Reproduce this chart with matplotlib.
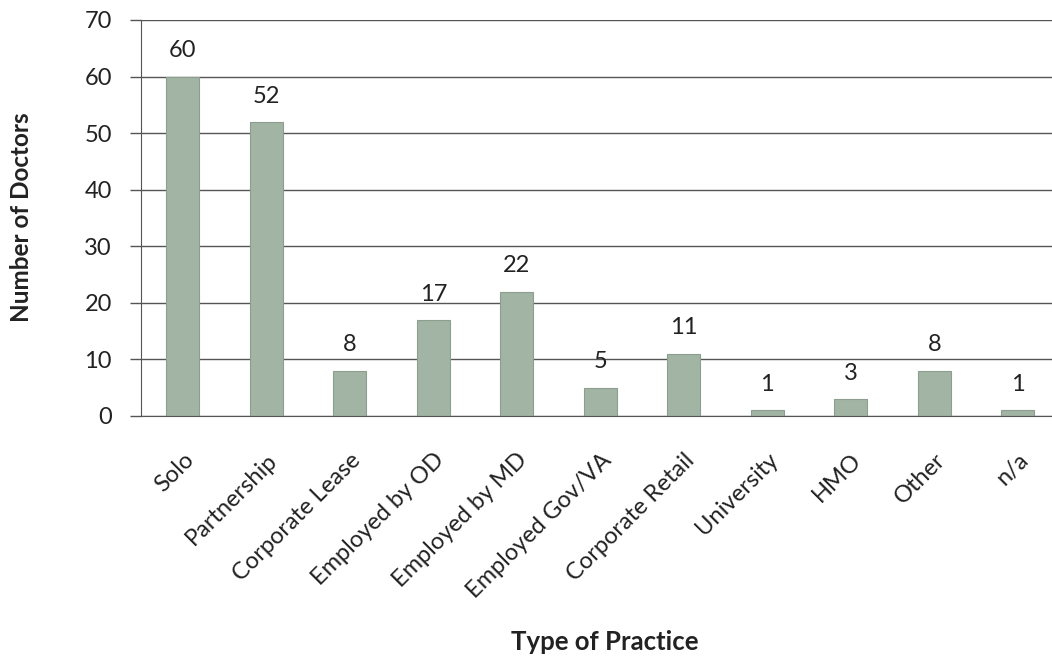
import matplotlib
matplotlib.use("Agg")
import matplotlib.pyplot as plt
import numpy as np

categories = ["Solo", "Partnership", "Corporate Lease", "Employed by OD",
              "Employed by MD", "Employed Gov/VA", "Corporate Retail",
              "University", "HMO", "Other", "n/a"]
doctors = [60, 52, 8, 17, 22, 5, 11, 1, 3, 8, 1]
y_ticks = [0, 10, 20, 30, 40, 50, 60, 70]

plt.rcParams['font.family'] = ['Lato', 'DejaVu Sans']

fig = plt.figure(figsize=(10.52, 6.56), dpi=100)
ax = fig.add_axes([141 / 1052, 1 - 416 / 656, (1052 - 141) / 1052, (416 - 20) / 656])

x = np.arange(len(categories))
ax.bar(x, doctors, width=0.4, color="#a2b4a4", edgecolor="#8c9f8f",
       linewidth=0.8, zorder=2)

for xi, v in zip(x, doctors):
    ax.annotate(str(v), (xi, v), xytext=(0, 11), textcoords="offset points",
                ha="center", va="bottom", fontsize=17, color="#222222")

ax.set_xlim(-0.5, 10.41)
ax.set_ylim(0, 70)
ax.set_yticks(y_ticks)
ax.yaxis.grid(True, color="#555555", linewidth=1.0, zorder=0)
ax.set_axisbelow(True)

ax.set_xticks(x)
ax.set_xticklabels(categories, rotation=45, ha="right", rotation_mode="anchor",
                   fontsize=17, color="#222222")
ax.tick_params(axis="x", length=0, pad=24)
ax.tick_params(axis="y", length=8, width=1, color="#555555", labelsize=17,
               labelcolor="#222222", pad=13)

for side in ("top", "right"):
    ax.spines[side].set_visible(False)
ax.spines["left"].set_color("#555555")
ax.spines["bottom"].set_color("#555555")

fig.text(22 / 1052, 1 - 217 / 656, "Number of Doctors", rotation=90,
         ha="center", va="center", fontsize=17.5, fontweight="bold", color="#222222")
fig.text(605 / 1052, 1 - 642 / 656, "Type of Practice", ha="center", va="center",
         fontsize=18.5, fontweight="bold", color="#222222")

fig.savefig("out.png", dpi=100)
